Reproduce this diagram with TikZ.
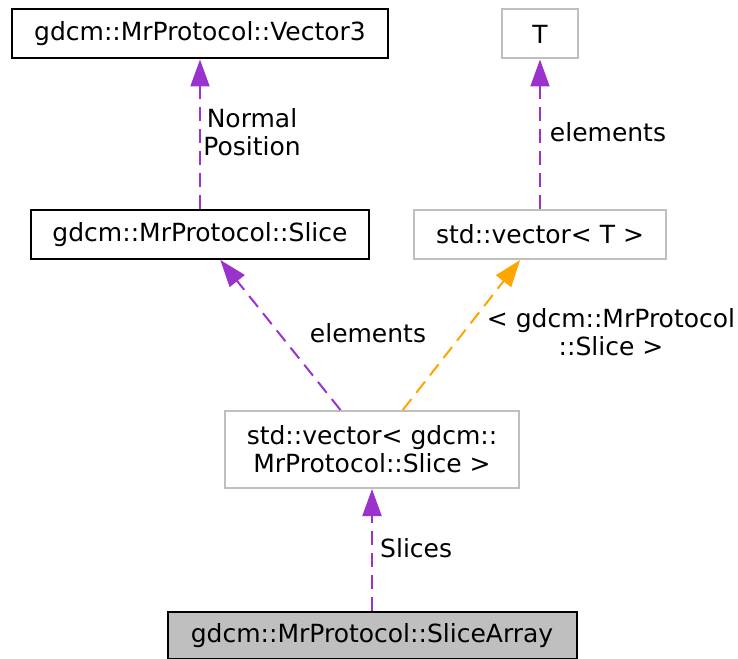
\documentclass[tikz,border=0pt]{standalone}
\usepackage{fontspec}
\setmainfont{DejaVu Sans}
\definecolor{membpurple}{HTML}{9A32CD}
\definecolor{tmplorange}{HTML}{FFA500}
\definecolor{boxgrey}{HTML}{BFBFBF}
\usetikzlibrary{arrows.meta, positioning}

\begin{document}
\begin{tikzpicture}[
  x=1pt, y=-1pt,
  font=\fontsize{25}{28}\selectfont,
  cls/.style={draw=black, line width=2pt, minimum height=49pt, inner sep=0pt, align=center},
  ext/.style={cls, draw=boxgrey},
  memb/.style={draw=membpurple, line width=2pt, dash pattern=on 14pt off 8pt, -{Triangle[length=27pt, width=19pt, fill=membpurple]}},
  tmpl/.style={memb, draw=tmplorange, -{Triangle[length=27pt, width=19pt, fill=tmplorange]}},
  lbl/.style={inner sep=0pt, align=center}
]
  \useasboundingbox (0,0) rectangle (738,658);

  \node[cls, minimum width=376pt] (vecthree) at (200, 34) {gdcm::MrProtocol::Vector3};
  \node[ext, minimum width=76pt] (tparam) at (540, 34) {T};
  \node[cls, minimum width=338pt] (slice) at (200, 234.5) {gdcm::MrProtocol::Slice};
  \node[ext, minimum width=252pt] (vect) at (540, 234.5) {std::vector< T >};
  \node[ext, minimum width=294pt, minimum height=77pt] (vecslice) at (372, 449.5) {std::vector< gdcm::\\MrProtocol::Slice >};
  \node[cls, fill=boxgrey, minimum width=409pt, minimum height=47pt] (slicearray) at (372, 635.5) {gdcm::MrProtocol::SliceArray};

  \draw[memb] (slicearray) -- (vecslice);
  \draw[memb] (vecslice) -- (slice);
  \draw[tmpl] (vecslice) -- (vect);
  \draw[memb] (slice) -- (vecthree);
  \draw[memb] (vect) -- (tparam);

  \node[lbl, anchor=west] (lblslices) at (380, 548) {Slices};
  \node[lbl] (lblelem) at (368, 333) {elements};
  \node[lbl] (lbltmpl) at (611, 332) {< gdcm::MrProtocol\\::Slice >};
  \node[lbl] (lblpos) at (252, 132) {Normal\\Position};
  \node[lbl] (lbltelem) at (608, 132) {elements};
\end{tikzpicture}
\end{document}
